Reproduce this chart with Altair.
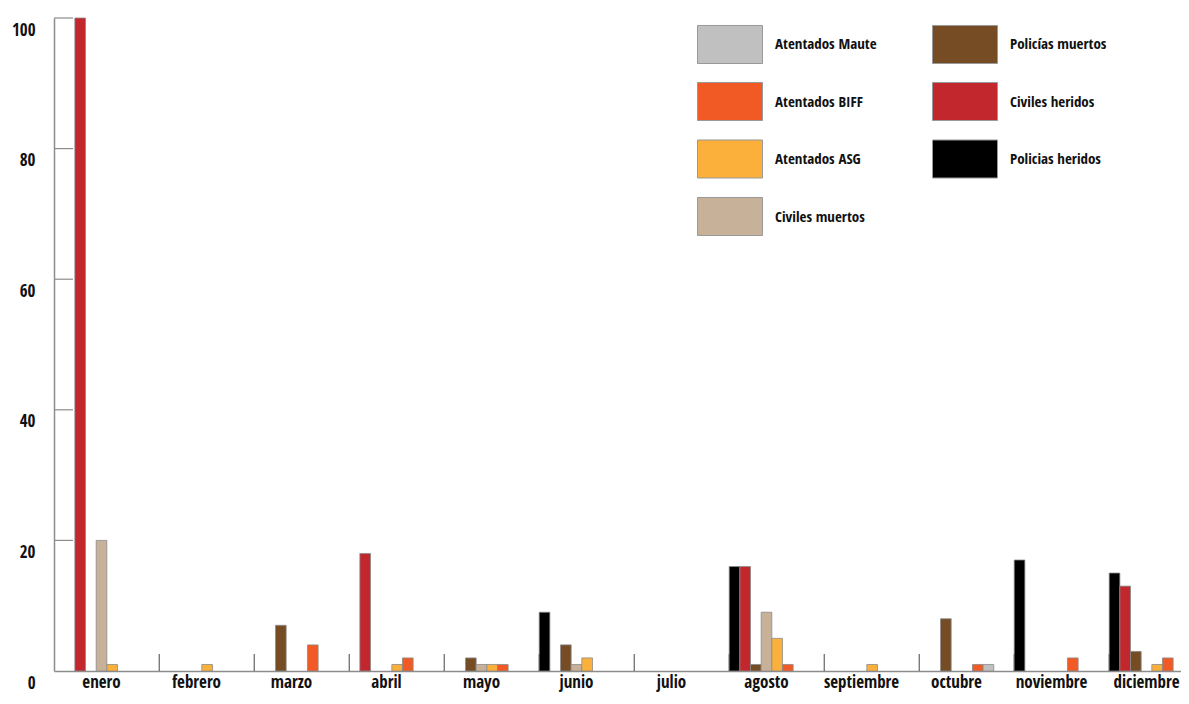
import altair as alt
import pandas as pd

months = ["enero", "febrero", "marzo", "abril", "mayo", "junio", "julio",
          "agosto", "septiembre", "octubre", "noviembre", "diciembre"]

series = ["Policias heridos", "Civiles heridos", "Policías muertos", "Civiles muertos",
          "Atentados ASG", "Atentados BIFF", "Atentados Maute"]

policias_heridos = [0, 0, 0, 0, 0, 9, 0, 16, 0, 0, 17, 15]
civiles_heridos = [100, 0, 0, 18, 0, 0, 0, 16, 0, 0, 0, 13]
policias_muertos = [0, 0, 7, 0, 2, 4, 0, 1, 0, 8, 0, 3]
civiles_muertos = [20, 0, 0, 0, 1, 1, 0, 9, 0, 0, 0, 0]
atentados_asg = [1, 1, 0, 1, 1, 2, 0, 5, 1, 0, 0, 1]
atentados_biff = [0, 0, 4, 2, 1, 0, 0, 1, 0, 1, 2, 2]
atentados_maute = [0, 0, 0, 0, 0, 0, 0, 0, 0, 1, 0, 0]

legend_order = ["Atentados Maute", "Atentados BIFF", "Atentados ASG", "Civiles muertos",
                "Policías muertos", "Civiles heridos", "Policias heridos"]
legend_colors = ["#c0c0c0", "#f15a24", "#fbb03b", "#c7b299",
                 "#754c24", "#c1272d", "#000000"]

y_ticks = [0, 20, 40, 60, 80, 100]
grid_vals = [20, 40, 60, 80, 100]

values_by_series = {
    "Policias heridos": policias_heridos,
    "Civiles heridos": civiles_heridos,
    "Policías muertos": policias_muertos,
    "Civiles muertos": civiles_muertos,
    "Atentados ASG": atentados_asg,
    "Atentados BIFF": atentados_biff,
    "Atentados Maute": atentados_maute,
}

rows = []
for s in series:
    for m, v in zip(months, values_by_series[s]):
        if v > 0:
            rows.append({"mes": m, "serie": s, "valor": v})
df = pd.DataFrame(rows)

FONT = "Open Sans Condensed, Roboto Condensed, DejaVu Sans Condensed, sans-serif"

x_scale = alt.Scale(domain=months, range=[0, 1140], paddingInner=0.215, paddingOuter=0.1075)
x_axis = alt.Axis(title=None, ticks=False, labelPadding=3, labelFontSize=17,
                  labelFontWeight="bold", labelAngle=0, domainColor="#8c8c8c",
                  domainWidth=1.5, labelColor="#111", labelFont=FONT)
y_scale = alt.Scale(domain=[0, 100], nice=False)
y_axis = alt.Axis(title=None, values=y_ticks, ticks=False, grid=False,
                  labelPadding=19, labelOffset=12, labelFontSize=17,
                  labelFontWeight="bold", domainColor="#8c8c8c", domainWidth=1.5,
                  labelColor="#111", labelFont=FONT)

bars = alt.Chart(df).mark_bar(stroke="#8a8a8a", strokeWidth=0.8).encode(
    x=alt.X("mes:N", sort=months, scale=x_scale, axis=x_axis),
    xOffset=alt.XOffset("serie:N", scale=alt.Scale(domain=series, paddingInner=0, paddingOuter=0)),
    y=alt.Y("valor:Q", scale=y_scale, axis=y_axis),
    color=alt.Color(
        "serie:N",
        scale=alt.Scale(domain=legend_order, range=legend_colors),
        legend=alt.Legend(
            title=None, orient="none", legendX=643, legendY=-7, columns=2,
            symbolType="M-1,-0.585H1V0.585H-1Z", symbolSize=4225,
            symbolStrokeColor="#999999", symbolStrokeWidth=1, symbolOpacity=1,
            labelFontSize=15, labelFontWeight="bold", labelOffset=12,
            labelColor="#111", labelFont=FONT,
            rowPadding=2.5, columnPadding=53, labelLimit=300,
        ),
    ),
)

grid = alt.Chart(pd.DataFrame({"valor": grid_vals})).mark_rule(
    color="#8c8c8c", strokeWidth=1.2
).encode(
    y=alt.Y("valor:Q", scale=y_scale, axis=y_axis),
    x=alt.value(0),
    x2=alt.value(19),
)

seps = alt.Chart(pd.DataFrame({"mes": months[1:]})).mark_rule(
    color="#444444", strokeWidth=1
).encode(
    x=alt.X("mes:N", sort=months, scale=x_scale, axis=x_axis, bandPosition=0),
    y=alt.value(636),
    y2=alt.value(653),
)

chart = alt.layer(grid, bars, seps).properties(
    width=1127, height=653,
    autosize=alt.AutoSizeParams(type="none"),
    padding={"left": 46, "top": 10, "right": 0, "bottom": 22},
).configure(font=FONT, background="white").configure_view(stroke="transparent", strokeWidth=0)

chart.save("out.html", embed_options={"renderer": "svg", "actions": False})
